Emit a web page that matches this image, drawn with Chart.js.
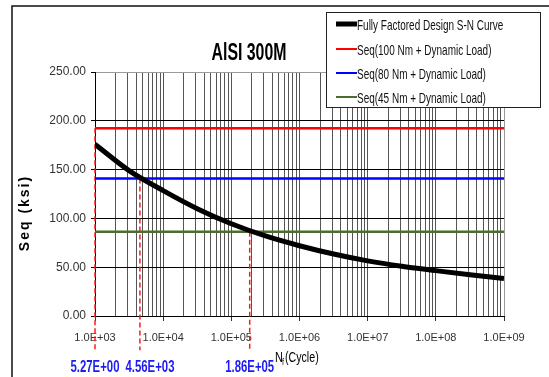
<!DOCTYPE html>
<html>
<head>
<meta charset="utf-8">
<script src="https://cdn.jsdelivr.net/npm/chart.js@4.4.0/dist/chart.umd.min.js"></script>
<style>
  html, body { margin: 0; padding: 0; background: #fff; }
  #wrap { width: 549px; height: 377px; position: relative; }
</style>
</head>
<body>
<div id="wrap"><canvas id="chart"></canvas></div>
<script>
// cycles (log axis) and fully factored S-N curve
const cycles = [1e3, 3.16e3, 1e4, 3.16e4, 1e5, 3.16e5, 1e6, 3.16e6, 1e7, 3.16e7, 1e8, 3.16e8, 1e9];
const fullyFactored = [176, 149, 128.5, 110, 94.5, 82, 72, 63.5, 56.5, 51, 46.5, 42.2, 38.5];

// equivalent stress levels for the three load cases
const loadLabels = [
  "Seq(100 Nm + Dynamic Load)",
  "Seq(80 Nm + Dynamic Load)",
  "Seq(45 Nm + Dynamic Load)"
];
const loadStress = [192.4, 141, 86.2];
const loadColors = ["#ff0000", "#0000ff", "#4e6b30"];

// crossing points (first one lies left of the axis, drawn at its edge)
const crossCycles = [1e3, 4.56e3, 1.86e5];
const crossLabels = ["5.27E+00", "4.56E+03", "1.86E+05"];

const decadeTicks = [1e3, 1e4, 1e5, 1e6, 1e7, 1e8, 1e9];
const xTickLabels = ["1.0E+03", "1.0E+04", "1.0E+05", "1.0E+06", "1.0E+07", "1.0E+08", "1.0E+09"];
const yTicks = [0, 50, 100, 150, 200, 250];

function hasFont(name) {
  const c = document.createElement("canvas").getContext("2d");
  const s = "250.00 Seq(100 Nm)";
  c.font = "20px monospace";
  const a = c.measureText(s).width;
  c.font = `20px "${name}", monospace`;
  return c.measureText(s).width !== a;
}
const NARROW = hasFont("Liberation Sans Narrow");
const tickFamily = NARROW ? '"Liberation Sans Narrow"' : '"Liberation Sans", Arial, sans-serif';

// minor grid: 1..9 in every decade
const gridCycles = [];
for (let e = 3; e < 9; e++) {
  for (let m = 1; m < 10; m++) gridCycles.push(m * 10 ** e);
}
gridCycles.push(1e9);

// text squeezed sideways, the picture has a narrow font
function squeezed(ctx, str, x, y, size, bold, sx, color, align) {
  ctx.save();
  ctx.translate(x, y);
  ctx.scale(sx, 1);
  ctx.font = (bold ? "bold " : "") + size + 'px "Liberation Sans", Arial, sans-serif';
  ctx.fillStyle = color;
  ctx.textAlign = align || "left";
  ctx.textBaseline = "alphabetic";
  ctx.fillText(str, 0, 0);
  ctx.restore();
}

const decor = {
  id: "decor",
  beforeDraw(chart) {
    const ctx = chart.ctx;
    ctx.save();
    ctx.fillStyle = "#fff";
    ctx.fillRect(0, 0, chart.width, chart.height);
    ctx.strokeStyle = "#111";
    ctx.lineWidth = 1.5;
    ctx.beginPath();
    ctx.moveTo(chart.width, 6);
    ctx.lineTo(12, 6);
    ctx.lineTo(12, chart.height);
    ctx.stroke();
    ctx.restore();
  },
  afterDraw(chart) {
    const ctx = chart.ctx;
    const xs = chart.scales.x;

    // title
    squeezed(ctx, "AlSI 300M", 249, 60, 23, true, 0.69, "#000", "center");

    // y axis title
    ctx.save();
    ctx.translate(25, 213);
    ctx.rotate(-Math.PI / 2);
    ctx.font = 'bold 14px "Liberation Sans", Arial, sans-serif';
    ctx.letterSpacing = "2px";
    ctx.fillStyle = "#000";
    ctx.textAlign = "center";
    ctx.textBaseline = "middle";
    ctx.fillText("Seq (ksi)", 0, 0);
    ctx.restore();

    // x axis title N_f(Cycle)
    squeezed(ctx, "N", 275, 362, 14, false, 0.78, "#000");
    squeezed(ctx, "f", 282, 365, 9, false, 0.8, "#000");
    squeezed(ctx, "(Cycle)", 285, 362, 14, false, 0.76, "#000");

    // crossing labels under the dashed lines
    let prevRight = -Infinity;
    crossLabels.forEach((lab, i) => {
      const px = xs.getPixelForValue(crossCycles[i]);
      const w = 49;
      let left = Math.max(px - w / 2, prevRight + 6);
      squeezed(ctx, lab, left, 372, 16, true, 0.71, "#1c1cf0");
      prevRight = left + w;
    });

    // legend box
    const bx = 326, by = 12, bw = 214, bh = 95;
    ctx.save();
    ctx.fillStyle = "#fff";
    ctx.fillRect(bx, by, bw, bh);
    ctx.strokeStyle = "#222";
    ctx.lineWidth = 1;
    ctx.strokeRect(bx + 0.5, by + 0.5, bw, bh);
    const rows = [24, 49, 73, 97];
    chart.data.datasets.filter(d => d.inLegend).forEach((d, i) => {
      ctx.strokeStyle = d.borderColor;
      ctx.lineWidth = i === 0 ? 5 : 2;
      ctx.beginPath();
      ctx.moveTo(336, rows[i]);
      ctx.lineTo(357, rows[i]);
      ctx.stroke();
      squeezed(ctx, d.label, 357, rows[i] + 5.5, 15, false, 0.665, "#111");
    });
    ctx.restore();
  }
};

const datasets = [{
  label: "Fully Factored Design S-N Curve",
  inLegend: true,
  data: cycles.map((c, i) => ({ x: c, y: fullyFactored[i] })),
  borderColor: "#000",
  borderWidth: 5,
  pointRadius: 0,
  cubicInterpolationMode: "monotone"
}];
loadLabels.forEach((lab, i) => {
  datasets.push({
    label: lab,
    inLegend: true,
    data: [{ x: decadeTicks[0], y: loadStress[i] }, { x: decadeTicks[decadeTicks.length - 1], y: loadStress[i] }],
    borderColor: loadColors[i],
    borderWidth: 2.5,
    pointRadius: 0
  });
});
crossCycles.forEach((c, i) => {
  datasets.push({
    label: crossLabels[i],
    data: [{ x: c, y: loadStress[i] }, { x: c, y: -35 }],
    borderColor: "#ff1a1a",
    borderWidth: 1.5,
    borderDash: [5, 3],
    pointRadius: 0,
    clip: false
  });
});

new Chart(document.getElementById("chart"), {
  type: "line",
  data: { datasets },
  options: {
    responsive: true,
    maintainAspectRatio: false,
    animation: false,
    events: [],
    layout: { padding: { left: 0, top: 72, right: 45, bottom: 0 } },
    plugins: { legend: { display: false }, title: { display: false }, tooltip: { enabled: false } },
    scales: {
      x: {
        type: "logarithmic",
        min: 1e3,
        max: 1e9,
        afterBuildTicks: scale => { scale.ticks = gridCycles.map(v => ({ value: v })); },
        afterFit: scale => { scale.height = 61; },
        grid: {
          color: c => (c.tick && c.tick.value === 1e9 ? "#9a9a9a" : "#555"),
          tickColor: c => (c.tick && decadeTicks.includes(c.tick.value) ? "#333" : "rgba(0,0,0,0)"),
          tickLength: 5,
          lineWidth: 1
        },
        border: { color: "#000", width: 1 },
        ticks: {
          autoSkip: false,
          maxRotation: 0,
          padding: 10,
          color: "#333",
          font: { family: tickFamily, size: NARROW ? 13.5 : 11 },
          callback: v => {
            const i = decadeTicks.indexOf(v);
            return i >= 0 ? xTickLabels[i] : "";
          }
        }
      },
      y: {
        min: 0,
        max: 250,
        afterBuildTicks: scale => { scale.ticks = yTicks.map(v => ({ value: v })); },
        afterFit: scale => { scale.width = 95; },
        grid: {
          color: c => (c.tick && c.tick.value === 250 ? "#9a9a9a" : "#000"),
          tickColor: "#000",
          tickLength: 4
        },
        border: { color: "#000", width: 1 },
        ticks: {
          padding: 5,
          color: "#333",
          font: { family: tickFamily, size: NARROW ? 14.5 : 12 },
          callback: v => v.toFixed(2)
        }
      }
    }
  },
  plugins: [decor]
});
</script>
</body>
</html>
